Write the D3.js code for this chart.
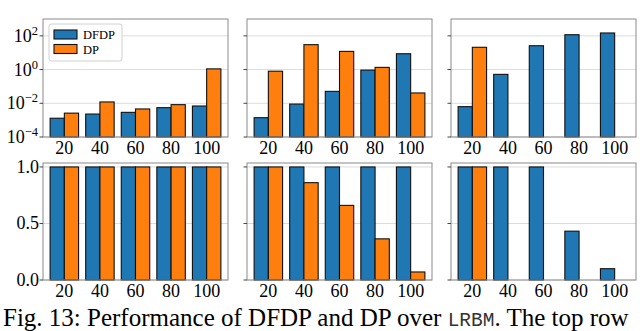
<!DOCTYPE html>
<html>
<head>
<meta charset="utf-8">
<script src="https://cdn.jsdelivr.net/npm/d3@7"></script>
<style>
  body { margin: 0; background: #fff; }
  svg { display: block; }
  text { font-family: "Liberation Serif", "Times New Roman", serif; fill: #000; }
</style>
</head>
<body>
<svg id="chart" width="640" height="331"></svg>
<script>
// problem sizes on the x axis
var sizes = [20, 40, 60, 80, 100];
var methods = ["DFDP", "DP"];

// top row: runtime (log scale), one array per panel, null = no bar
var timeDFDP1 = [0.0013, 0.0023, 0.0029, 0.0055, 0.0069];
var timeDP1 = [0.0026, 0.012, 0.0046, 0.0083, 1.1];
var timeDFDP2 = [0.0014, 0.009, 0.051, 0.93, 8.7];
var timeDP2 = [0.8, 30, 12, 1.35, 0.041];
var timeDFDP3 = [0.0063, 0.52, 26, 117, 148];
var timeDP3 = [21, null, null, null, null];

// bottom row: success ratio
var ratioDFDP1 = [1, 1, 1, 1, 1];
var ratioDP1 = [1, 1, 1, 1, 1];
var ratioDFDP2 = [1, 1, 1, 1, 1];
var ratioDP2 = [1, 0.861, 0.66, 0.364, 0.071];
var ratioDFDP3 = [1, 1, 1, 0.432, 0.1];
var ratioDP3 = [1, null, null, null, null];

var logTicks = [1e-4, 1e-2, 1, 1e2];
var logTickLabels = [["10", "\u22124"], ["10", "\u22122"], ["10", "0"], ["10", "2"]];
var linTicks = [0, 0.5, 1];
var linTickLabels = ["0.0", "0.5", "1.0"];

var colors = { DFDP: "#1f77b4", DP: "#ff7f0e" };

var svg = d3.select("#chart");

var panelLefts = [43, 247, 451];
var panelWidth = 185;
var rows = [
  { top: 19, bottom: 137, log: true, panels: [[timeDFDP1, timeDP1], [timeDFDP2, timeDP2], [timeDFDP3, timeDP3]] },
  { top: 163, bottom: 280, log: false, panels: [[ratioDFDP1, ratioDP1], [ratioDFDP2, ratioDP2], [ratioDFDP3, ratioDP3]] }
];

rows.forEach(function (row) {
  var y = row.log
    ? d3.scaleLog().domain([1e-4, 1e3]).range([row.bottom, row.top])
    : d3.scaleLinear().domain([0, 1.035]).range([row.bottom, row.top]);
  var ticks = row.log ? logTicks : linTicks;

  row.panels.forEach(function (pair, pi) {
    var left = panelLefts[pi];
    var g = svg.append("g");

    var x = d3.scaleBand()
      .domain(sizes)
      .range([left, left + panelWidth])
      .paddingInner(0.2)
      .paddingOuter(0.2);
    var xs = d3.scaleBand().domain(methods).range([0, x.bandwidth()]);

    // grid
    g.selectAll(".grid")
      .data(ticks)
      .enter()
      .append("line")
      .attr("x1", left)
      .attr("x2", left + panelWidth)
      .attr("y1", function (d) { return y(d); })
      .attr("y2", function (d) { return y(d); })
      .attr("stroke", "#dcdcdc")
      .attr("stroke-width", 1);

    // bars
    methods.forEach(function (m, mi) {
      var vals = pair[mi].map(function (v, i) { return { size: sizes[i], v: v }; })
        .filter(function (d) { return d.v != null; });
      g.selectAll(".bar-" + m)
        .data(vals)
        .enter()
        .append("rect")
        .attr("x", function (d) { return x(d.size) + xs(m); })
        .attr("width", xs.bandwidth())
        .attr("y", function (d) { return y(d.v); })
        .attr("height", function (d) { return row.bottom - y(d.v); })
        .attr("fill", colors[m])
        .attr("stroke", "#111")
        .attr("stroke-width", 1.1);
    });

    // frame
    g.append("rect")
      .attr("x", left)
      .attr("y", row.top)
      .attr("width", panelWidth)
      .attr("height", row.bottom - row.top)
      .attr("fill", "none")
      .attr("stroke", "#8a8a8a")
      .attr("stroke-width", 1);

    // y ticks
    g.selectAll(".ytick")
      .data(ticks)
      .enter()
      .append("line")
      .attr("x1", left - 3.5)
      .attr("x2", left)
      .attr("y1", function (d) { return y(d); })
      .attr("y2", function (d) { return y(d); })
      .attr("stroke", "#444")
      .attr("stroke-width", 1);

    // x tick labels
    g.selectAll(".xlabel")
      .data(sizes)
      .enter()
      .append("text")
      .attr("x", function (d) { return x(d) + x.bandwidth() / 2; })
      .attr("y", row.bottom + 17)
      .attr("text-anchor", "middle")
      .style("font-size", "18px")
      .text(function (d) { return d; });

    if (pi === 0) {
      if (row.log) {
        ticks.forEach(function (t, i) {
          var txt = g.append("text")
            .attr("x", left - 5)
            .attr("y", y(t) + 6)
            .attr("text-anchor", "end")
            .style("font-size", "18px");
          txt.append("tspan").text(logTickLabels[i][0]);
          txt.append("tspan")
            .attr("dy", -7)
            .style("font-size", "12.5px")
            .text(logTickLabels[i][1]);
        });
      } else {
        ticks.forEach(function (t, i) {
          g.append("text")
            .attr("x", left - 4)
            .attr("y", y(t) + 6)
            .attr("text-anchor", "end")
            .style("font-size", "18px")
            .text(linTickLabels[i]);
        });
      }
    }
  });
});

// legend in first panel
var legend = svg.append("g");
legend.append("rect")
  .attr("x", 49)
  .attr("y", 24)
  .attr("width", 73)
  .attr("height", 37)
  .attr("rx", 2.5)
  .attr("fill", "#fff")
  .attr("fill-opacity", 0.85)
  .attr("stroke", "#d0d0d0");
methods.forEach(function (m, i) {
  var cy = 34.5 + i * 14.5;
  legend.append("rect")
    .attr("x", 54)
    .attr("y", cy - 4.5)
    .attr("width", 23)
    .attr("height", 9)
    .attr("fill", colors[m])
    .attr("stroke", "#111")
    .attr("stroke-width", 1.1);
  legend.append("text")
    .attr("x", 83)
    .attr("y", cy + 4.5)
    .style("font-size", "12.5px")
    .text(m);
});

// caption
var cap = svg.append("text")
  .attr("x", 3)
  .attr("y", 325.5)
  .style("font-size", "25px");
cap.append("tspan").text("Fig. 13: Performance of DFDP and DP over ");
cap.append("tspan")
  .style("font-family", "'Liberation Mono', 'DejaVu Sans Mono', monospace")
  .style("font-size", "19.5px")
  .style("fill", "#333")
  .text("LRBM");
cap.append("tspan").text(". The top row");
</script>
</body>
</html>
